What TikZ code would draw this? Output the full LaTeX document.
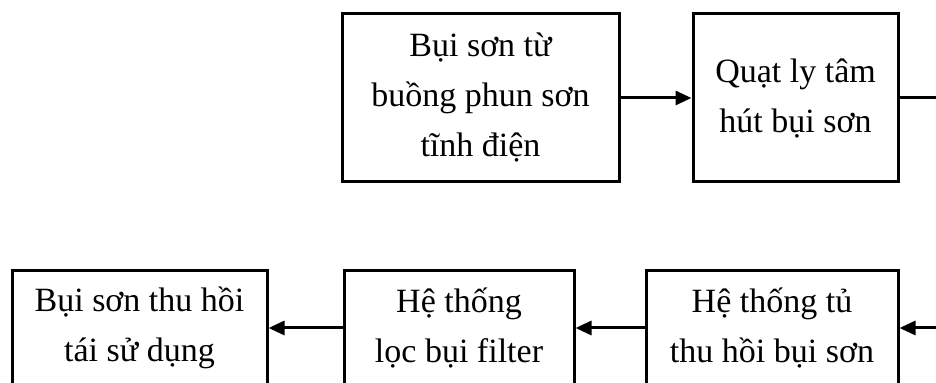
\documentclass[tikz,border=0pt]{standalone}
\usepackage{fontspec}
\setmainfont{Liberation Serif}
\usetikzlibrary{arrows.meta, positioning}

\begin{document}
\begin{tikzpicture}[
    x=0.5pt, y=-0.5pt,
    stage/.style={draw, line width=1.5pt, align=center, inner sep=2pt, font=\fontsize{17}{25}\selectfont},
    flow/.style={-{Triangle[length=8pt, width=7pt]}, line width=1.5pt},
]
\path[use as bounding box, clip] (0,0) rectangle (936,383);

% upper row, running to the right
\node[stage, minimum width=138.5pt, minimum height=84pt] (source) at (480.5, 98) {Bụi sơn từ\\buồng phun sơn\\tĩnh điện};
\node[stage, minimum width=102.5pt, minimum height=84pt] (fan) at (795.5, 98) {Quạt ly tâm\\hút bụi sơn};

% lower row, running back to the left
\node[stage, minimum width=127.5pt, minimum height=57pt] (reuse) at (139.5, 328) {Bụi sơn thu hồi\\tái sử dụng};
\node[stage, minimum width=115pt, minimum height=57pt] (filter) at (459, 328) {Hệ thống\\lọc bụi filter};
\node[stage, minimum width=126pt, minimum height=57pt] (booth) at (772, 328) {Hệ thống tủ\\thu hồi bụi sơn};

\coordinate (turn) at (950, 98);

\draw[flow] (source) -- (fan);
\draw[flow] (fan.east) -- (turn) |- (booth.east);
\draw[flow] (booth) -- (filter);
\draw[flow] (filter) -- (reuse);

\end{tikzpicture}
\end{document}
